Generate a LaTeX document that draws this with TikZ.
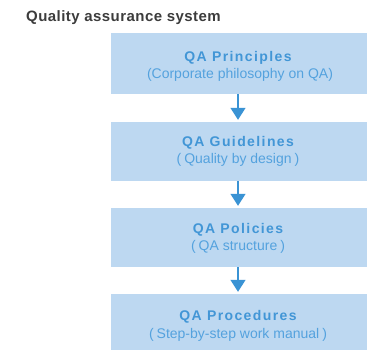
\documentclass[tikz,border=0pt]{standalone}
\usepackage{fontspec}
\setmainfont{Liberation Sans}
\newfontfamily\titlefont[LetterSpace=3]{Liberation Sans}
\newfontfamily\headfont[LetterSpace=10]{Liberation Sans}
\usetikzlibrary{arrows.meta}
\definecolor{boxfill}{RGB}{189,216,241}
\definecolor{headblue}{RGB}{66,150,214}
\definecolor{subblue}{RGB}{84,162,222}
\definecolor{arrowblue}{RGB}{58,147,212}
\definecolor{titlegray}{RGB}{60,60,60}
\tikzset{
  qabox/.style={fill=boxfill, draw=none, minimum width=256pt, inner sep=0pt},
  headtext/.style={anchor=base, inner sep=0pt, text=headblue, font=\headfont\bfseries\fontsize{14}{16}\selectfont},
  subtext/.style={anchor=base, inner sep=0pt, text=subblue, font=\fontsize{14}{16}\selectfont},
  flow/.style={draw=arrowblue, line width=1.3pt, -{Triangle[width=15pt,length=12pt]}, shorten >=2pt},
}
\newcommand{\qpar}[1]{(\hspace{3pt}#1\hspace{3pt})}
\begin{document}
\begin{tikzpicture}[x=1pt,y=-1pt]
\useasboundingbox (0,0) rectangle (372,351);
\node[anchor=base west, inner sep=0pt, text=titlegray, font=\titlefont\bfseries\fontsize{15}{18}\selectfont] (title) at (26,21.7) {Quality assurance system};
\node[qabox, minimum height=61pt] (b1) at (239,63.5) {};
\node[qabox, minimum height=59pt] (b2) at (239,151.5) {};
\node[qabox, minimum height=59pt] (b3) at (239,237.5) {};
\node[qabox, minimum height=56pt] (b4) at (239,322) {};
\node[headtext] (h1) at (238,61.5) {QA Principles};
\node[subtext] (s1) at (240,78.2) {(Corporate philosophy on QA)};
\node[headtext] (h2) at (238,146.8) {QA Guidelines};
\node[subtext] (s2) at (238,163.4) {\qpar{Quality by design}};
\node[headtext] (h3) at (238,233.3) {QA Policies};
\node[subtext] (s3) at (238,250.3) {\qpar{QA structure}};
\node[headtext] (h4) at (238,320) {QA Procedures};
\node[subtext] (s4) at (238,338) {\qpar{Step-by-step work manual}};
\draw[flow] (b1.south -| 238,0) -- (b2.north -| 238,0);
\draw[flow] (b2.south -| 238,0) -- (b3.north -| 238,0);
\draw[flow] (b3.south -| 238,0) -- (b4.north -| 238,0);
\end{tikzpicture}
\end{document}
